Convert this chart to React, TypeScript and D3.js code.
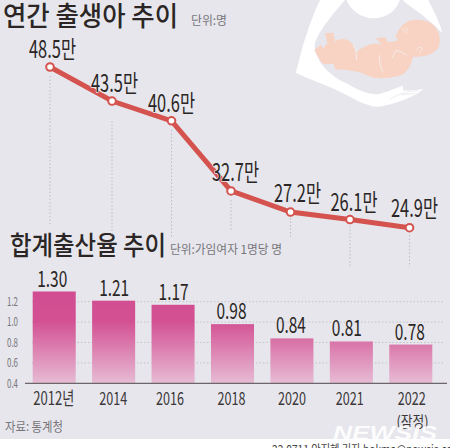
import React, { useEffect, useRef } from "react";
import * as d3 from "d3";

// ── Data ──────────────────────────────────────────────────────────────────────

const YEARS = ["2012", "2014", "2016", "2018", "2020", "2021", "2022"];
const BIRTH_LABELS = ["48.5만", "43.5만", "40.6만", "32.7만", "27.2만", "26.1만", "24.9만"];
// Height of the line as drawn in the source. 2018 is printed as 32.7 but sits near 30.3.
const BIRTHS_DRAWN = [48.5, 43.5, 40.6, 30.3, 27.2, 26.1, 24.9];
const RATES = [1.3, 1.21, 1.17, 0.98, 0.84, 0.81, 0.78];
const RATE_TICKS = [0.4, 0.6, 0.8, 1.0, 1.2];
const X_LABELS = ["2012년", "2014", "2016", "2018", "2020", "2021", "2022"];

// ── Constants ─────────────────────────────────────────────────────────────────

const WIDTH = 450;
const HEIGHT = 448;
const BG = "#e6e6ec";
const INK = "#2b2625";
const GREY = "#77757a";
const RED = "#d5534f";
const KR = "'Noto Sans CJK KR', sans-serif";
const NARROW = "'Liberation Sans Narrow', 'Noto Sans CJK KR', sans-serif";

// hand placement of labels, dx/dy from the mark
const LINE_LABEL_DX = [2.5, 2.5, 0, 4.5, 7, 4, 5];
const LINE_LABEL_DY = [-9, -9.5, -9, -9.5, -10.5, -9, -10.5];
const BAR_LABEL_DX = [-2, 0.5, 0.5, -1, -1, -4.5, -1];
const X_LABEL_DX = [-0.5, -0.5, -3, -1, 0, -1.5, 1];
const DROP_TOP = [76, 121, 130, 200, 218, 226, 235];
const DROP_BOTTOM = [224, 237, 237, 230, 237, 267, 267];

// ── Renderer ──────────────────────────────────────────────────────────────────

function renderChart(el: SVGSVGElement) {
  const svg = d3.select(el);
  svg.selectAll("*").remove();

  const defs = svg.append("defs");
  const grad = defs
    .append("linearGradient")
    .attr("id", "barFill")
    .attr("gradientUnits", "userSpaceOnUse")
    .attr("x1", 0)
    .attr("x2", 0)
    .attr("y1", 291)
    .attr("y2", 384);
  grad.append("stop").attr("offset", "0%").attr("stop-color", "#d24c92");
  grad.append("stop").attr("offset", "33%").attr("stop-color", "#d35193");
  grad.append("stop").attr("offset", "100%").attr("stop-color", "#e7bdd5");

  svg.append("rect").attr("width", WIDTH).attr("height", HEIGHT).attr("fill", BG);
  svg.append("rect").attr("y", 439).attr("width", WIDTH).attr("height", 9).attr("fill", "#fff");

  drawIllustration(svg);

  const addText = (
    s: string,
    x: number,
    y: number,
    size: number,
    width: number,
    fill: string,
    font = KR,
    weight = 400
  ) =>
    svg
      .append("text")
      .attr("x", x)
      .attr("y", y)
      .attr("font-family", font)
      .attr("font-size", size)
      .attr("font-weight", weight)
      .attr("fill", fill)
      .attr("textLength", width)
      .attr("lengthAdjust", "spacingAndGlyphs")
      .text(s);

  addText("연간 출생아 추이", 3, 25.5, 27, 175, INK, KR, 500);
  addText("단위:명", 191, 25, 12, 36, GREY);
  addText("합계출산율 추이", 10, 255, 26, 156, INK, KR, 500);
  addText("단위:가임여자 1명당 명", 170, 254, 12, 112, GREY);
  addText("자료: 통계청", 5, 431, 13, 58, GREY);

  // ── Bars ──
  const x = d3
    .scaleBand<string>()
    .domain(YEARS)
    .range([24.5, 440.5])
    .paddingInner(0.276)
    .paddingOuter(0.138);
  const yRate = d3.scaleLinear().domain([0.4, 1.3]).range([383.3, 291.5]);

  // grid first, the bars sit on it
  svg
    .append("g")
    .selectAll("line")
    .data(RATE_TICKS.filter((t) => t > 0.4))
    .join("line")
    .attr("x1", 32)
    .attr("x2", 443)
    .attr("y1", (d) => yRate(d))
    .attr("y2", (d) => yRate(d))
    .attr("stroke", "#c3c3c9")
    .attr("stroke-width", 1)
    .attr("stroke-dasharray", "1.5,2");

  svg
    .append("g")
    .selectAll("rect")
    .data(RATES)
    .join("rect")
    .attr("x", (_, i) => x(YEARS[i]) ?? 0)
    .attr("y", (d) => yRate(d))
    .attr("width", x.bandwidth())
    .attr("height", (d) => yRate(0.4) - yRate(d))
    .attr("fill", "url(#barFill)");

  svg
    .append("g")
    .selectAll("text")
    .data(RATES)
    .join("text")
    .attr("x", (_, i) => (x(YEARS[i]) ?? 0) + x.bandwidth() / 2 + BAR_LABEL_DX[i])
    .attr("y", (d) => yRate(d) - 5)
    .attr("text-anchor", "middle")
    .attr("font-family", NARROW)
    .attr("font-size", 22)
    .attr("fill", INK)
    .attr("textLength", 30)
    .attr("lengthAdjust", "spacingAndGlyphs")
    .text((d) => d.toFixed(2));

  // Y axis
  svg
    .append("g")
    .attr("transform", "translate(19,0)")
    .call(d3.axisLeft(yRate).tickValues(RATE_TICKS).tickSize(0).tickPadding(1).tickFormat((v) => Number(v).toFixed(1)))
    .call((ax) => ax.select(".domain").remove())
    .call((ax) =>
      ax
        .selectAll("text")
        .attr("font-family", NARROW)
        .attr("font-size", 12)
        .attr("fill", GREY)
        .attr("textLength", 11)
        .attr("lengthAdjust", "spacingAndGlyphs")
    );

  // X axis
  svg
    .append("g")
    .attr("transform", "translate(0,383.3)")
    .call(
      d3
        .axisBottom(x)
        .tickSize(0)
        .tickPadding(9)
        .tickFormat((_, i) => X_LABELS[i])
    )
    .call((ax) => ax.select(".domain").remove())
    .call((ax) =>
      ax
        .selectAll<SVGTextElement, string>("text")
        .attr("font-family", NARROW)
        .attr("font-size", 18)
        .attr("fill", "#3c383a")
        .attr("dx", (_, i) => X_LABEL_DX[i])
        .attr("textLength", (_, i) => (i === 0 ? 41 : 28))
        .attr("lengthAdjust", "spacingAndGlyphs")
    );

  svg
    .append("line")
    .attr("x1", 25)
    .attr("x2", 447)
    .attr("y1", yRate(0.4))
    .attr("y2", yRate(0.4))
    .attr("stroke", "#6c666a")
    .attr("stroke-width", 1.3);

  addText("(잠정)", 396.5, 427, 15, 32, "#3c383a").attr("font-family", NARROW);

  // ── Line ──
  const xLine = d3.scalePoint<string>().domain(YEARS).range([52.5, 409.5]);
  const yBirth = d3.scaleLinear().domain([24.9, 48.5]).range([227.7, 67]);
  const px = (i: number) => (xLine(YEARS[i]) ?? 0) - (i === 0 ? 2.5 : 0);

  svg
    .append("g")
    .selectAll("line")
    .data(BIRTHS_DRAWN)
    .join("line")
    .attr("x1", (_, i) => px(i))
    .attr("x2", (_, i) => px(i))
    .attr("y1", (_, i) => DROP_TOP[i])
    .attr("y2", (_, i) => DROP_BOTTOM[i])
    .attr("stroke", "#bdbdc3")
    .attr("stroke-width", 1)
    .attr("stroke-dasharray", "1.5,2");

  const line = d3
    .line<number>()
    .x((_, i) => px(i))
    .y((d) => yBirth(d));

  svg
    .append("path")
    .attr("d", line(BIRTHS_DRAWN))
    .attr("fill", "none")
    .attr("stroke", RED)
    .attr("stroke-width", 5);

  svg
    .append("g")
    .selectAll("circle")
    .data(BIRTHS_DRAWN)
    .join("circle")
    .attr("cx", (_, i) => px(i))
    .attr("cy", (d) => yBirth(d))
    .attr("r", 3.8)
    .attr("fill", "#fff")
    .attr("stroke", RED)
    .attr("stroke-width", 2);

  svg
    .append("g")
    .selectAll("text")
    .data(BIRTHS_DRAWN)
    .join("text")
    .attr("x", (_, i) => px(i) + LINE_LABEL_DX[i])
    .attr("y", (d, i) => yBirth(d) + LINE_LABEL_DY[i])
    .attr("text-anchor", "middle")
    .attr("font-family", NARROW)
    .attr("font-size", 24)
    .attr("fill", INK)
    .attr("stroke", BG)
    .attr("stroke-width", 1.6)
    .attr("paint-order", "stroke")
    .attr("textLength", 47)
    .attr("lengthAdjust", "spacingAndGlyphs")
    .text((_, i) => BIRTH_LABELS[i]);

  // ── Credit and watermark ──
  addText("22.0711 안지혜 기자 hokma@newsis.com", 272, 454, 12, 190, "#444");
  addText("NEWSIS", 333, 440, 20, 104, "#fff", "'Liberation Sans', sans-serif", 700)
    .attr("font-style", "italic")
    .attr("opacity", 0.9);
}

// 3x coordinates from (290,0)
function drawIllustration(svg: d3.Selection<SVGSVGElement, unknown, null, undefined>) {
  const g = svg.append("g").attr("transform", "translate(290,0) scale(0.3333)");
  const white = [
    "M90,0 C70,40 50,100 35,150 C28,180 20,205 18,218 C50,235 110,255 150,275 C190,295 235,322 265,320 C300,316 370,295 400,267 C385,268 360,272 340,272 L338,258 C320,262 295,275 265,283 C240,285 200,270 170,250 C140,238 110,215 90,185 C78,165 72,145 75,130 C85,95 130,40 165,0 Z",
    "M170,0 C180,30 215,55 250,55 C290,55 320,30 330,0 Z",
    "M338,0 C350,15 400,40 458,100 C450,70 430,30 415,0 Z",
  ];
  g.selectAll("path.arm")
    .data(white)
    .join("path")
    .attr("class", "arm")
    .attr("d", (d) => d)
    .attr("fill", "#fff");

  g.append("path")
    .attr(
      "d",
      "M330,85 C345,60 375,55 405,62 C440,72 455,105 448,135 C440,160 410,172 370,170 C365,185 360,205 340,222 C310,235 270,238 245,232 C220,222 205,210 135,208 L130,190 C115,195 95,195 90,180 L73,150 L92,135 L100,145 L112,130 L105,100 L130,98 L135,125 C150,112 175,115 190,135 C198,155 200,165 205,150 L235,135 C250,130 265,130 275,135 L258,115 L285,112 L292,125 L310,125 L325,120 L316,108 Z"
    )
    .attr("fill", "#f8d2c2");

  const creases = [
    "M268,165 C268,185 272,205 280,218",
    "M305,175 L320,150 L350,165",
    "M335,85 L350,100",
    "M345,82 L355,95",
    "M380,150 C395,130 405,150 388,158",
    "M190,135 C198,150 200,165 200,180",
  ];
  g.selectAll("path.crease")
    .data(creases)
    .join("path")
    .attr("class", "crease")
    .attr("d", (d) => d)
    .attr("fill", "none")
    .attr("stroke", "#f3ece9")
    .attr("stroke-width", 3);

  g.append("path")
    .attr("d", "M300,298 C320,285 345,275 385,272 M335,285 C350,282 365,283 375,280")
    .attr("fill", "none")
    .attr("stroke", "#e2e2e8")
    .attr("stroke-width", 2);
}

// ── Component ─────────────────────────────────────────────────────────────────

export default function App() {
  const svgRef = useRef<SVGSVGElement>(null);

  useEffect(() => {
    if (svgRef.current) renderChart(svgRef.current);
  }, []);

  return (
    <svg
      ref={svgRef}
      width={WIDTH}
      height={HEIGHT}
      style={{ position: "fixed", left: 0, top: 0, display: "block" }}
    />
  );
}
